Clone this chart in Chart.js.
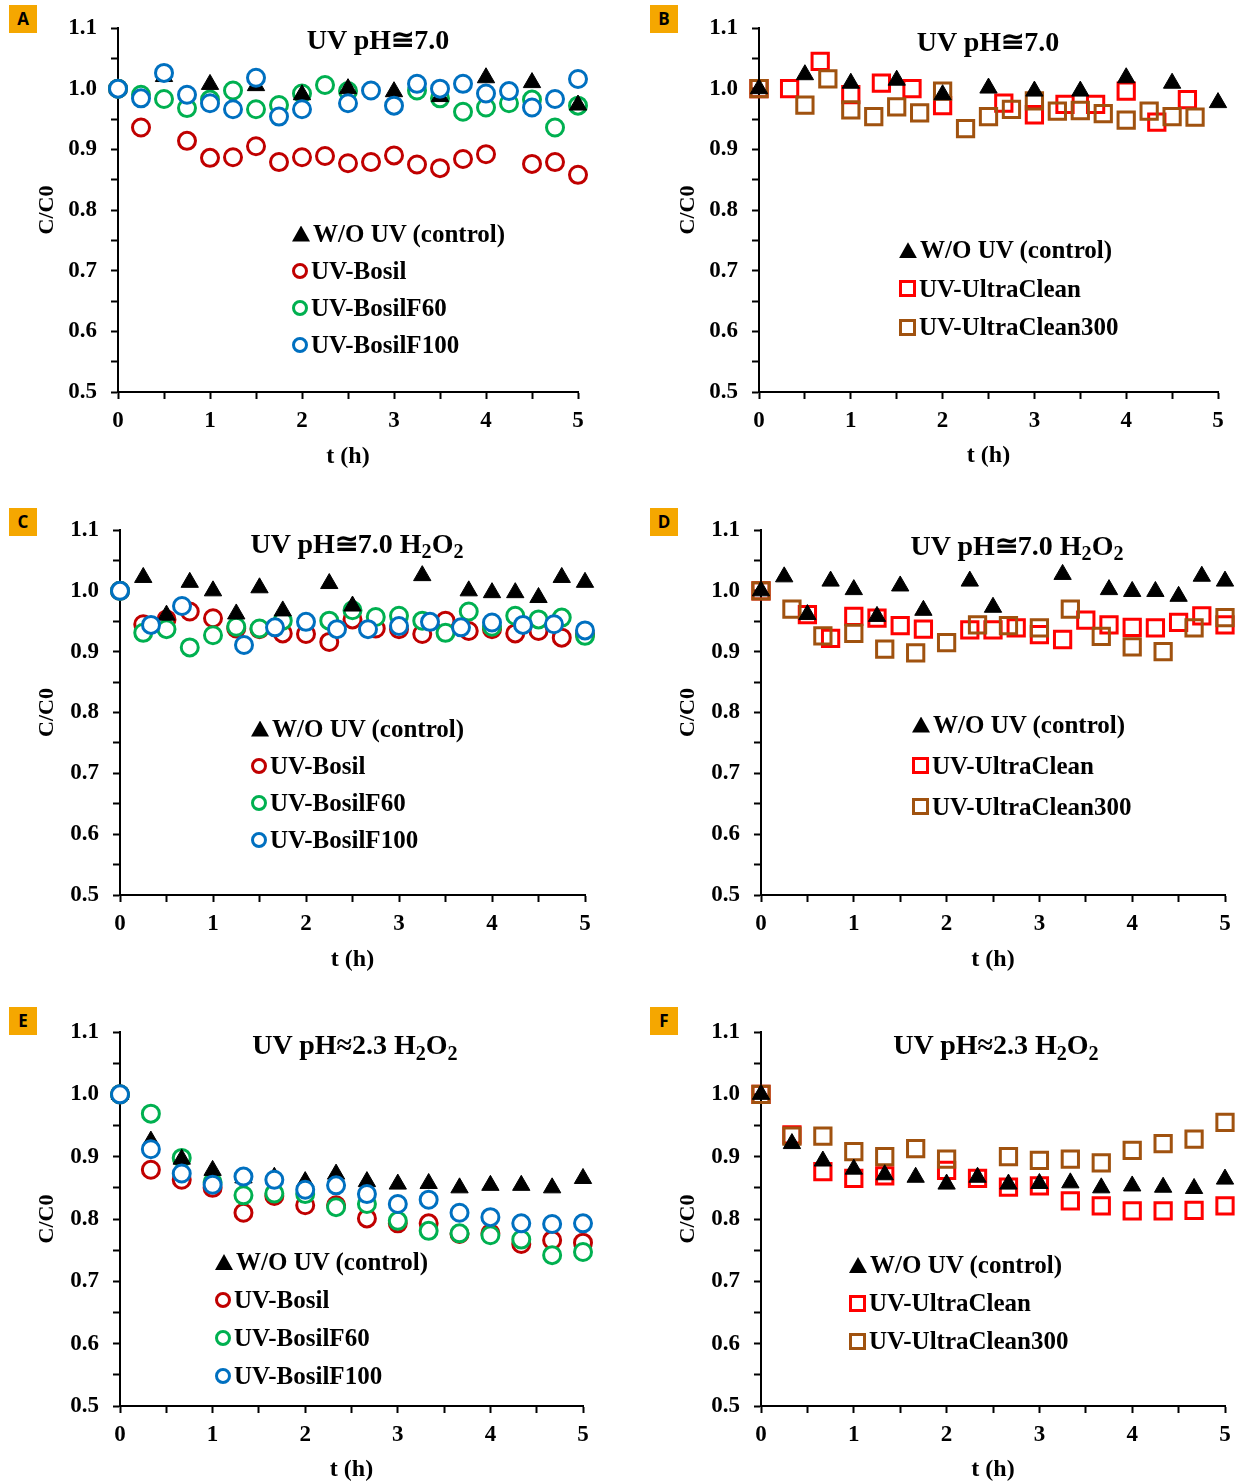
<!DOCTYPE html>
<html>
<head>
<meta charset="utf-8">
<script src="https://cdn.jsdelivr.net/npm/chart.js@4.4.1/dist/chart.umd.min.js"></script>
<style>
  body { margin: 0; background: #fff; }
  #wrap { position: relative; width: 1241px; height: 1483px; background: #fff; overflow: hidden; }
  canvas { position: absolute; }
  .tag { position: absolute; width: 28px; height: 28px; background: #F5A700; color: #000;
         font: bold 17px 'Open Sans', 'DejaVu Sans', sans-serif; text-align: center; line-height: 28px; }
  .ttl { position: absolute; transform: translate(-50%, -50%); white-space: nowrap;
         font: bold 28px 'Liberation Serif', 'Times New Roman', serif; color: #000; }
  .ttl sub { font-size: 0.72em; vertical-align: -0.28em; line-height: 0; }
  .leg { position: absolute; font: bold 25px 'Liberation Serif', 'Times New Roman', serif; color: #000; }
  .leg div { height: 37px; display: flex; align-items: center; white-space: nowrap; }
  .sym { display: inline-block; box-sizing: border-box; margin-right: 3px; }
  .sym.tri { width: 18px; height: 16px; background: #000; clip-path: polygon(50% 0, 100% 100%, 0 100%); }
  .sym.cir { width: 16px; height: 16px; border: 3px solid; border-radius: 50%; }
  .sym.sq { width: 17px; height: 17px; border: 3px solid; }
</style>
</head>
<body>
<div id="wrap"></div>
<script>
// time grids (h)
const tHalf = [0, 0.5, 1, 1.5, 2, 2.5, 3, 3.5, 4, 4.5, 5];
const tQuarter = [0, 0.25, 0.5, 0.75, 1, 1.25, 1.5, 1.75, 2, 2.25, 2.5, 2.75, 3, 3.25, 3.5, 3.75, 4, 4.25, 4.5, 4.75, 5];
const tThird = [0, 1/3, 2/3, 1, 4/3, 5/3, 2, 7/3, 8/3, 3, 10/3, 11/3, 4, 13/3, 14/3, 5];
const tCtrlH2O2 = [0, 0.25, 0.5, 0.75, 1, 1.25, 1.5, 1.75, 2.25, 2.5, 3.25, 3.75, 4, 4.25, 4.5, 4.75, 5];

// A: UV pH 7.0
const aCtrl   = [1.0, 1.02, 1.007, 1.005, 0.99, 1.0, 0.995, 0.987, 1.018, 1.01, 0.973];
const aBosil  = [1.0, 0.936, null, 0.914, 0.886, 0.887, 0.905, 0.879, 0.887, 0.889, 0.877, 0.879, 0.89, 0.875, 0.869, 0.884, 0.892, null, 0.876, 0.879, 0.858];
const aF60    = [1.0, 0.99, 0.983, 0.968, 0.982, 0.997, 0.966, 0.973, 0.992, 1.006, 0.996, null, null, 0.997, 0.984, 0.962, 0.969, 0.976, 0.982, 0.936, 0.972];
const aF100   = [1.0, 0.984, 1.026, 0.99, 0.976, 0.966, 1.018, 0.954, 0.966, null, 0.976, 0.997, 0.972, 1.008, 1.0, 1.008, 0.992, 0.996, 0.969, 0.983, 1.016];

// B: UV pH 7.0, UltraClean
const bCtrl   = [1.0, 1.023, 1.009, 1.014, 0.99, 1.001, 0.996, 0.996, 1.018, 1.009, 0.977];
const bUC     = [1.0, 1.0, 1.045, 0.99, 1.009, 1.0, 0.972, null, 0.976, 0.957, 0.974, 0.974, 0.996, 0.945, 0.982, null];
const bUC300  = [1.0, null, 0.973, 1.016, 0.965, 0.954, 0.97, 0.96, 0.996, 0.934, 0.954, 0.966, 0.98, 0.963, 0.964, 0.959, 0.948, 0.963, 0.954, 0.953, null];

// C: UV pH 7.0 + H2O2
const cCtrl   = [1.0, 1.022, 0.96, 1.014, 1.0, 0.962, 1.005, 0.967, 1.012, 0.975, 1.025, 1.0, 0.997, 0.997, 0.989, 1.022, 1.014];
const cBosil  = [1.0, 0.945, 0.953, 0.966, 0.955, 0.938, 0.937, 0.93, 0.929, 0.916, 0.953, 0.938, 0.937, 0.929, 0.951, 0.934, 0.937, 0.93, 0.934, 0.923, 0.929];
const cF60    = [1.0, 0.931, 0.937, 0.907, 0.927, 0.941, 0.938, 0.951, null, 0.951, 0.968, 0.957, 0.959, 0.951, 0.931, 0.966, 0.941, 0.959, 0.953, 0.956, 0.926];
const cF100   = [1.0, 0.944, 0.975, null, 0.911, 0.94, 0.949, 0.937, 0.937, 0.942, 0.949, 0.94, 0.948, 0.944, 0.945, 0.935];

// D: UV pH 7.0 + H2O2, UltraClean
const dCtrl   = [1.0, 1.023, 0.961, 1.016, 1.002, 0.958, 1.008, 0.968, 1.016, 0.973, 1.027, 1.002, 0.999, 0.999, 0.991, 1.024, 1.016];
const dUC     = [1.0, null, 0.961, 0.922, 0.958, 0.955, 0.943, 0.937, null, 0.936, 0.936, 0.939, 0.928, 0.92, 0.952, 0.944, 0.94, 0.939, 0.948, 0.959, 0.944];
const dUC300  = [1.0, 0.97, 0.926, 0.93, 0.904, 0.898, 0.915, 0.944, 0.943, 0.939, 0.97, 0.925, 0.908, 0.9, 0.939, 0.956];

// E: UV pH 2.3 + H2O2
const eCtrl   = [1.0, 0.925, 0.896, 0.878, 0.866, 0.867, 0.86, 0.872, 0.86, 0.856, 0.857, 0.85, 0.854, 0.854, 0.85, 0.865];
const eBosil  = [1.0, 0.879, 0.863, 0.85, 0.81, 0.837, 0.822, 0.822, 0.801, 0.793, 0.793, 0.776, 0.777, 0.76, 0.766, 0.762];
const eF60    = [1.0, 0.969, 0.898, 0.859, 0.838, 0.841, 0.84, 0.819, 0.824, 0.797, 0.781, 0.777, 0.774, 0.767, 0.742, 0.747];
const eF100   = [1.0, 0.912, 0.873, 0.855, 0.868, 0.863, 0.847, 0.854, 0.84, 0.824, 0.831, 0.81, 0.803, 0.793, 0.792, 0.793];

// F: UV pH 2.3 + H2O2, UltraClean
const fCtrl   = [1.0, 0.921, 0.893, 0.88, 0.871, 0.867, 0.856, 0.867, 0.856, 0.857, 0.858, 0.85, 0.853, 0.851, 0.849, 0.864];
const fUC     = [1.0, 0.935, 0.876, 0.865, 0.869, null, 0.878, 0.865, 0.851, 0.853, 0.829, 0.821, 0.813, 0.813, 0.814, 0.821];
const fUC300  = [1.0, 0.933, 0.933, 0.908, 0.9, 0.913, 0.896, null, 0.9, 0.894, 0.896, 0.89, 0.91, 0.921, 0.928, 0.955];

const SERIF = "'Liberation Serif', 'Times New Roman', serif";
Chart.defaults.font.family = SERIF;
Chart.defaults.color = '#000';

// draw order: lower "layer" is painted on top
const STYLES = {
    ctrl:  { label: 'W/O UV (control)', shape: 'triangle', color: '#000000', layer: 1 },
    bosil: { label: 'UV-Bosil',         shape: 'circle',   color: '#C00000', layer: 3 },
    f60:   { label: 'UV-BosilF60',      shape: 'circle',   color: '#00B050', layer: 2 },
    f100:  { label: 'UV-BosilF100',     shape: 'circle',   color: '#0070C0', layer: 0 },
    uc:    { label: 'UV-UltraClean',    shape: 'rect',     color: '#FF0000', layer: 3 },
    uc300: { label: 'UV-UltraClean300', shape: 'rect',     color: '#A0520F', layer: 2 }
};

const H2O2 = ' H<sub>2</sub>O<sub>2</sub>';
const panels = [
    { tag: 'A', box: [0, 0, 620, 480], plot: [118, 28, 578, 392], xTitle: 457, yTitle: 47,
      title: 'UV pH≅7.0', tPos: [378, 39], leg: [292, 215],
      series: [['ctrl', tHalf, aCtrl], ['bosil', tQuarter, aBosil], ['f60', tQuarter, aF60], ['f100', tQuarter, aF100]] },
    { tag: 'B', box: [620, 0, 621, 480], plot: [759, 28, 1218, 392], xTitle: 456, yTitle: 688,
      title: 'UV pH≅7.0', tPos: [988, 41], leg: [899, 231], legGap: 38.5,
      series: [['ctrl', tHalf, bCtrl], ['uc', tThird, bUC], ['uc300', tQuarter, bUC300]] },
    { tag: 'C', box: [0, 480, 620, 510], plot: [120, 530, 585, 895], xTitle: 960, yTitle: 47,
      title: 'UV pH≅7.0' + H2O2, tPos: [357, 543], leg: [251, 710],
      series: [['ctrl', tCtrlH2O2, cCtrl], ['bosil', tQuarter, cBosil], ['f60', tQuarter, cF60], ['f100', tThird, cF100]] },
    { tag: 'D', box: [620, 480, 621, 510], plot: [761, 530, 1225, 895], xTitle: 960, yTitle: 688,
      title: 'UV pH≅7.0' + H2O2, tPos: [1017, 545], leg: [912, 704], legGap: 41,
      series: [['ctrl', tCtrlH2O2, dCtrl], ['uc', tQuarter, dUC], ['uc300', tThird, dUC300]] },
    { tag: 'E', box: [0, 990, 620, 493], plot: [120, 1032, 583, 1406], xTitle: 1470, yTitle: 47,
      title: 'UV pH≈2.3' + H2O2, tPos: [355, 1045], leg: [215, 1243], legGap: 38,
      series: [['ctrl', tThird, eCtrl], ['bosil', tThird, eBosil], ['f60', tThird, eF60], ['f100', tThird, eF100]] },
    { tag: 'F', box: [620, 990, 621, 493], plot: [761, 1032, 1225, 1406], xTitle: 1470, yTitle: 688,
      title: 'UV pH≈2.3' + H2O2, tPos: [996, 1045], leg: [849, 1246], legGap: 38,
      series: [['ctrl', tThird, fCtrl], ['uc', tThird, fUC], ['uc300', tThird, fUC300]] }
];
const tagPos = { A: [9, 5], B: [650, 5], C: [9, 508], D: [650, 508], E: [9, 1007], F: [650, 1007] };

function toPoints(times, vals) {
    return vals.map((v, i) => ({ x: times[i], y: v })).filter(p => p.y !== null);
}

function makeDataset(key, times, vals) {
    const s = STYLES[key];
    const isTri = s.shape === 'triangle';
    return {
        label: s.label,
        data: toPoints(times, vals),
        pointStyle: s.shape,
        pointRadius: isTri ? 10 : (s.shape === 'rect' ? 11.5 : 8.5),
        pointBorderWidth: isTri ? 1 : 3,
        pointBorderColor: s.color,
        pointBackgroundColor: isTri ? s.color : (s.shape === 'circle' ? '#ffffff' : 'rgba(0,0,0,0)'),
        showLine: false,
        clip: false,
        order: s.layer
    };
}

const wrap = document.getElementById('wrap');
const tickFont = { family: SERIF, size: 23, weight: 'bold' };
const titleFont = { family: SERIF, size: 24, weight: 'bold' };

panels.forEach(p => {
    const [bx, by, bw, bh] = p.box;
    const [pl, pt, pr, pb] = p.plot;
    const cv = document.createElement('canvas');
    cv.width = bw; cv.height = bh;
    cv.style.left = bx + 'px'; cv.style.top = by + 'px';
    wrap.appendChild(cv);

    const lh = titleFont.size * 1.2;
    const xScaleH = (p.xTitle - pb) + lh / 2;
    const padBottom = (by + bh) - (pb + xScaleH);

    new Chart(cv, {
        type: 'scatter',
        data: { datasets: p.series.map(s => makeDataset(s[0], s[1], s[2])) },
        options: {
            responsive: false,
            animation: false,
            devicePixelRatio: 1,
            layout: { padding: { left: 0, top: pt - by, right: (bx + bw) - pr, bottom: padBottom } },
            plugins: { legend: { display: false }, tooltip: { enabled: false } },
            scales: {
                x: {
                    type: 'linear', min: 0, max: 5,
                    afterFit: sc => { sc.height = xScaleH; },
                    border: { display: true, color: '#000', width: 2 },
                    grid: { display: true, drawOnChartArea: false, drawTicks: true, tickLength: 7, tickWidth: 2, tickColor: '#000' },
                    ticks: {
                        stepSize: 0.5, autoSkip: false, maxRotation: 0, padding: 8, font: tickFont, color: '#000',
                        callback: v => (Math.abs(v - Math.round(v)) < 1e-6 ? String(Math.round(v)) : '')
                    },
                    title: { display: true, text: 't (h)', font: titleFont, color: '#000', padding: { top: 0, bottom: 0 } }
                },
                y: {
                    type: 'linear', min: 0.5, max: 1.1,
                    afterFit: sc => { sc.width = pl - bx; },
                    border: { display: true, color: '#000', width: 2 },
                    grid: { display: true, drawOnChartArea: false, drawTicks: true, tickLength: 7, tickWidth: 2, tickColor: '#000' },
                    ticks: {
                        stepSize: 0.05, autoSkip: false, padding: 14, font: tickFont, color: '#000',
                        callback: v => (Math.abs(v * 10 - Math.round(v * 10)) < 1e-6 ? v.toFixed(1) : '')
                    },
                    title: { display: true, text: 'C/C0', font: { family: SERIF, size: 22, weight: 'bold' }, color: '#000',
                             padding: { top: (p.yTitle - bx) - 22 * 1.2 / 2, bottom: 0 } }
                }
            }
        }
    });

    // panel letter
    const tag = document.createElement('div');
    tag.className = 'tag';
    tag.textContent = p.tag;
    tag.style.left = tagPos[p.tag][0] + 'px';
    tag.style.top = tagPos[p.tag][1] + 'px';
    wrap.appendChild(tag);

    // in-plot title
    const tt = document.createElement('div');
    tt.className = 'ttl';
    tt.innerHTML = p.title;
    tt.style.left = p.tPos[0] + 'px';
    tt.style.top = p.tPos[1] + 'px';
    wrap.appendChild(tt);

    // legend
    const lg = document.createElement('div');
    lg.className = 'leg';
    lg.style.left = p.leg[0] + 'px';
    lg.style.top = p.leg[1] + 'px';
    p.series.forEach(s => {
        const st = STYLES[s[0]];
        const row = document.createElement('div');
        if (p.legGap) row.style.height = p.legGap + 'px';
        const sym = document.createElement('span');
        sym.className = 'sym ' + (st.shape === 'triangle' ? 'tri' : st.shape === 'circle' ? 'cir' : 'sq');
        sym.style.borderColor = st.color;
        row.appendChild(sym);
        row.appendChild(document.createTextNode(st.label));
        lg.appendChild(row);
    });
    wrap.appendChild(lg);
});
</script>
</body>
</html>
